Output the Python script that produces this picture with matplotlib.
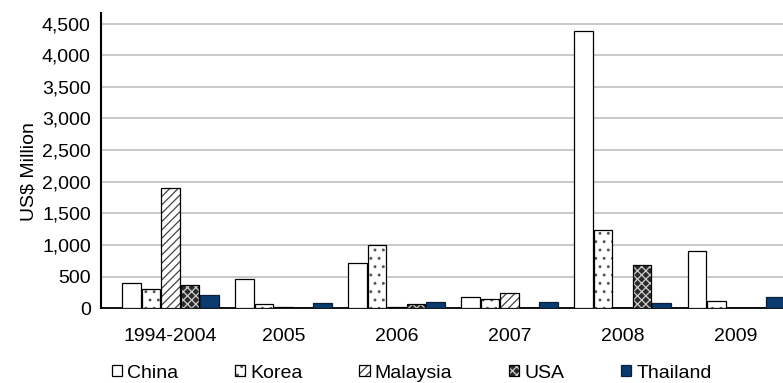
import matplotlib
matplotlib.use("Agg")
import matplotlib.pyplot as plt
from matplotlib.legend_handler import HandlerTuple
import numpy as np

plt.rcParams['font.family'] = ['Liberation Sans', 'DejaVu Sans']
plt.rcParams['hatch.linewidth'] = 0.9

categories = ["1994-2004", "2005", "2006", "2007", "2008", "2009"]
series_names = ["China", "Korea", "Malaysia", "USA", "Thailand"]
china = [395, 463, 716, 174, 4382, 905]
korea = [300, 68, 1000, 142, 1237, 120]
malaysia = [1896, 20, 25, 237, 0, 0]
usa = [368, 0, 73, 0, 679, 0]
thailand = [205, 84, 104, 104, 84, 179]
series = [china, korea, malaysia, usa, thailand]

# fill colour, hatch pattern, hatch colour, outline colour
styles = [
    ("white", None, "white", "black"),
    ("white", "..", "#555555", "black"),
    ("white", "////", "#444444", "black"),
    ("#2b2b2b", "xxxx", "#d0d0d0", "black"),
    ("#0B3A6E", None, "#0B3A6E", "#0A1F3A"),
]

FS = 14
W, H = 783, 383
fig = plt.figure(figsize=(W / 100, H / 100), dpi=100)
ax_left_px, ax_top_px, ax_bot_px = 100.5, 13, 308.3
xmin, xmax = -0.617, 5.6
px_per_unit = 113.1
ax_w_px = (xmax - xmin) * px_per_unit
ax = fig.add_axes([ax_left_px / W, 1 - ax_bot_px / H, ax_w_px / W, (ax_bot_px - ax_top_px) / H])

x = np.arange(len(categories))
pitch = 0.1724
width = 0.1636
handles = []
for k, (name, vals, st) in enumerate(zip(series_names, series, styles)):
    fc, hatch, hc, ec = st
    b1 = ax.bar(x + (k - 2) * pitch, vals, width, facecolor=fc, edgecolor=hc,
                hatch=hatch, linewidth=0, zorder=3)
    b2 = ax.bar(x + (k - 2) * pitch, vals, width, fill=False, edgecolor=ec,
                linewidth=0.9, zorder=4)
    handles.append((b1.patches[0], b2.patches[0]))

ax.set_xlim(xmin, xmax)
ax.set_ylim(0, 4667)
ax.set_yticks(np.arange(0, 4501, 500))
ax.set_yticklabels([f"{v:,}" for v in range(0, 4501, 500)])
ax.yaxis.grid(True, color="#BFBFBF", linewidth=1.2, zorder=0)
ax.set_axisbelow(True)

ax.set_xticks(x)
ax.set_xticklabels(categories)
ax.tick_params(axis="x", length=0, pad=14, labelsize=FS)
ax.tick_params(axis="y", length=0, pad=7, labelsize=FS)

for s in ["top", "right"]:
    ax.spines[s].set_visible(False)
ax.spines["left"].set_linewidth(1.5)
ax.spines["bottom"].set_linewidth(1.3)

ax.set_ylabel("US$ Million", fontsize=FS)
ax.yaxis.set_label_coords((38 - ax_left_px) / ax_w_px, (ax_bot_px - 172) / (ax_bot_px - ax_top_px))

leg = fig.legend(handles, series_names, loc="center left",
                 bbox_to_anchor=(111.7 / W, 1 - 373 / H), ncol=5,
                 frameon=False, fontsize=FS, handlelength=0.55, handleheight=0.55,
                 handletextpad=0.25, columnspacing=2.9, borderpad=0, borderaxespad=0,
                 handler_map={tuple: HandlerTuple(ndivide=1, pad=0)})

fig.savefig("out.png", dpi=100)
